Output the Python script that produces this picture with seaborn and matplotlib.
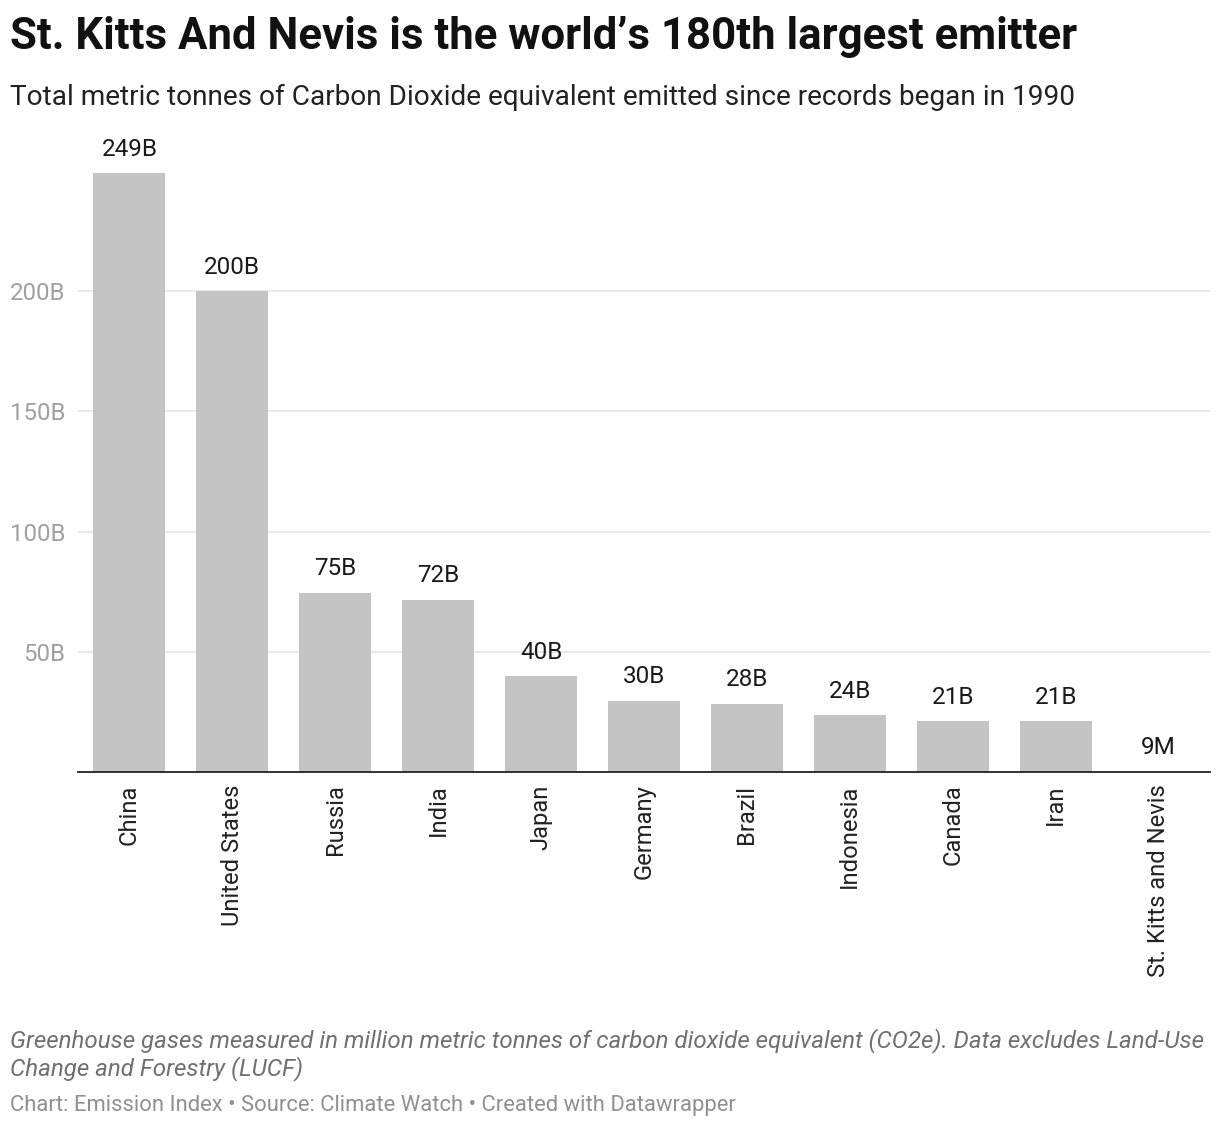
import matplotlib
matplotlib.use("Agg")
import matplotlib.pyplot as plt
import seaborn as sns
import pandas as pd

countries = ["China", "United States", "Russia", "India", "Japan", "Germany",
             "Brazil", "Indonesia", "Canada", "Iran", "St. Kitts and Nevis"]
emissions_b = [249, 200, 74.5, 71.6, 39.9, 29.6, 28.3, 23.7, 21.2, 21.2, 0.009]
value_labels = ["249B", "200B", "75B", "72B", "40B", "30B", "28B", "24B", "21B", "21B", "9M"]
y_ticks = [50, 100, 150, 200]
y_tick_labels = ["50B", "100B", "150B", "200B"]

sns.set_theme(style="white")
plt.rcParams["font.family"] = ["Roboto", "DejaVu Sans"]

df = pd.DataFrame({"country": countries, "value": emissions_b})

fig = plt.figure(figsize=(12.2, 11.3), dpi=100)
ax = fig.add_axes([0.0639, 0.3168, 0.9279, 0.5593])

sns.barplot(data=df, x="country", y="value", color="#c4c4c4", width=0.7,
            saturation=1, linewidth=0, ax=ax, zorder=2)

ax.set_xlim(-0.5, 10.5)
ax.set_ylim(0, 262.8)
ax.set_yticks(y_ticks)
ax.set_yticklabels(y_tick_labels)
ax.yaxis.grid(True, color="#e5e5e5", linewidth=1.2, zorder=0)
ax.set_axisbelow(True)
for s in ["top", "right", "left"]:
    ax.spines[s].set_visible(False)
ax.spines["bottom"].set_color("#222222")
ax.spines["bottom"].set_linewidth(1.3)
ax.spines["bottom"].set_zorder(5)
ax.tick_params(axis="y", length=0, pad=9, labelsize=17.3, labelcolor="#a0a0a0")
ax.tick_params(axis="x", length=0, pad=9, labelsize=17.1, labelcolor="#222222")
for lab in ax.get_xticklabels():
    lab.set_rotation(90)
    lab.set_va("top")
    lab.set_ha("center")
ax.set_xlabel("")
ax.set_ylabel("")

for i, (v, t) in enumerate(zip(emissions_b, value_labels)):
    ax.annotate(t, (i, v), xytext=(0, 9), textcoords="offset points",
                ha="center", va="bottom", fontsize=17.5, color="#1a1a1a")

fig.text(10 / 1220, 1 - 37 / 1130, "St. Kitts And Nevis is the world\u2019s 180th largest emitter",
         fontsize=31.5, fontweight="bold", color="#111111", va="center", ha="left")
fig.text(10 / 1220, 1 - 97 / 1130,
         "Total metric tonnes of Carbon Dioxide equivalent emitted since records began in 1990",
         fontsize=20.2, color="#222222", va="center", ha="left")
fig.text(10 / 1220, 1 - 1041 / 1130,
         "Greenhouse gases measured in million metric tonnes of carbon dioxide equivalent (CO2e). Data excludes Land-Use",
         fontsize=17.4, style="italic", color="#707070", va="center", ha="left")
fig.text(10 / 1220, 1 - 1069 / 1130, "Change and Forestry (LUCF)",
         fontsize=17.4, style="italic", color="#707070", va="center", ha="left")
fig.text(10 / 1220, 1 - 1105 / 1130,
         "Chart: Emission Index \u2022 Source: Climate Watch \u2022 Created with Datawrapper",
         fontsize=15.8, color="#909090", va="center", ha="left")

fig.savefig("out.png", dpi=100, facecolor="white")
